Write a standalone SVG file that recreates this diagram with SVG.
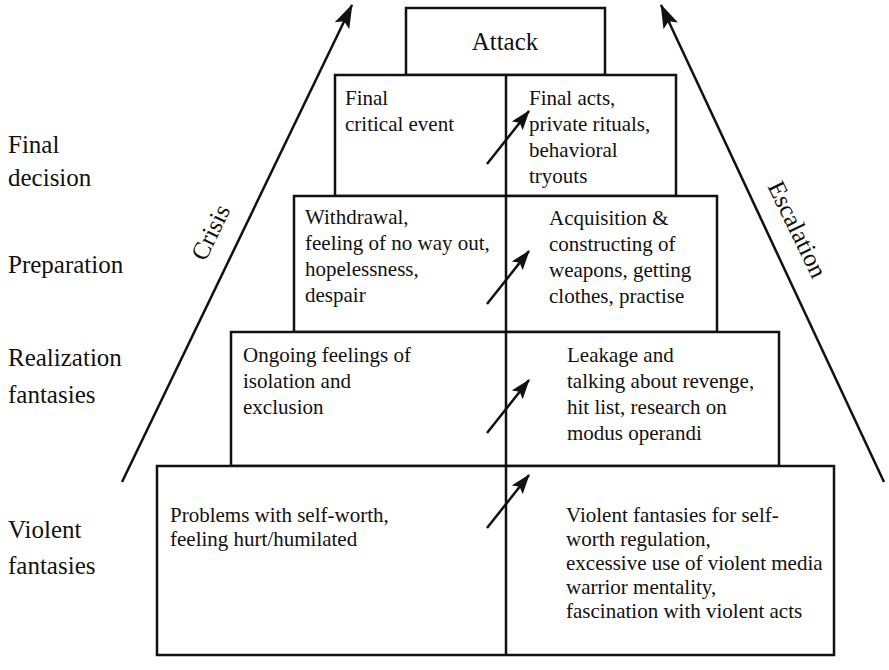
<svg xmlns="http://www.w3.org/2000/svg" width="889" height="670" viewBox="0 0 889 670">
  <defs>
    <marker id="head" viewBox="0 0 20 14" refX="19" refY="7" markerWidth="20" markerHeight="14" markerUnits="userSpaceOnUse" orient="auto">
      <path d="M0,0 L20,7 L0,14 L4,7 z" fill="#111"/>
    </marker>
    <marker id="headBig" viewBox="0 0 24 16" refX="23" refY="8" markerWidth="24" markerHeight="16" markerUnits="userSpaceOnUse" orient="auto">
      <path d="M0,0 L24,8 L0,16 L5,8 z" fill="#111"/>
    </marker>
  </defs>
  <style>
    .box { fill: #fff; stroke: #111; stroke-width: 2.5; }
    .div { stroke: #111; stroke-width: 2.5; fill: none; }
    .t { font-size: 21px; fill: #111; }
    .lbl { font-size: 25px; fill: #111; }
    .conn { stroke: #111; stroke-width: 2.5; fill: none; }
  </style>
  <rect width="889" height="670" fill="#fff"/>

  <g font-family="Liberation Serif, Tinos, Times New Roman, DejaVu Serif, serif">
  <!-- pyramid levels -->
  <g id="attack">
    <rect class="box" x="406" y="8" width="199" height="67"/>
    <text class="lbl" x="505" y="50" text-anchor="middle">Attack</text>
  </g>

  <g id="final-decision">
    <rect class="box" x="335" y="75" width="341" height="121"/>
    <text class="t" x="345" y="105">Final</text>
    <text class="t" x="345" y="131">critical event</text>
    <text class="t" x="529" y="105">Final acts,</text>
    <text class="t" x="529" y="131">private rituals,</text>
    <text class="t" x="529" y="157">behavioral</text>
    <text class="t" x="529" y="183">tryouts</text>
  </g>

  <g id="preparation">
    <rect class="box" x="294" y="196" width="423" height="136"/>
    <text class="t" x="305" y="224">Withdrawal,</text>
    <text class="t" x="305" y="250">feeling of no way out,</text>
    <text class="t" x="305" y="276">hopelessness,</text>
    <text class="t" x="305" y="302">despair</text>
    <text class="t" x="549" y="225">Acquisition &amp;</text>
    <text class="t" x="549" y="251">constructing of</text>
    <text class="t" x="549" y="277">weapons, getting</text>
    <text class="t" x="549" y="303">clothes, practise</text>
  </g>

  <g id="realization">
    <rect class="box" x="231" y="332" width="548" height="134"/>
    <text class="t" x="243" y="362">Ongoing feelings of</text>
    <text class="t" x="243" y="388">isolation and</text>
    <text class="t" x="243" y="414">exclusion</text>
    <text class="t" x="567" y="362">Leakage and</text>
    <text class="t" x="567" y="388">talking about revenge,</text>
    <text class="t" x="567" y="414">hit list, research on</text>
    <text class="t" x="567" y="440">modus operandi</text>
  </g>

  <g id="violent-fantasies">
    <rect class="box" x="157" y="466" width="677" height="189"/>
    <text class="t" x="170" y="522">Problems with self-worth,</text>
    <text class="t" x="170" y="546">feeling hurt/humilated</text>
    <text class="t" x="566" y="522">Violent fantasies for self-</text>
    <text class="t" x="566" y="546">worth regulation,</text>
    <text class="t" x="566" y="570">excessive use of violent media</text>
    <text class="t" x="566" y="594">warrior mentality,</text>
    <text class="t" x="566" y="618">fascination with violent acts</text>
  </g>

  <!-- centre divider through all levels -->
  <line class="div" x1="506" y1="75" x2="506" y2="655"/>

  <!-- stage labels -->
  <g id="stage-labels">
    <text class="lbl" x="8" y="153">Final</text>
    <text class="lbl" x="8" y="186">decision</text>
    <text class="lbl" x="8" y="273">Preparation</text>
    <text class="lbl" x="8" y="366">Realization</text>
    <text class="lbl" x="8" y="403">fantasies</text>
    <text class="lbl" x="8" y="538">Violent</text>
    <text class="lbl" x="8" y="574">fantasies</text>
  </g>

  <!-- connectors -->
  <g id="connectors">
    <line class="conn" x1="122" y1="482" x2="352" y2="5" marker-end="url(#headBig)"/>
    <line class="conn" x1="884" y1="482" x2="661" y2="5" marker-end="url(#headBig)"/>
    <line class="conn" x1="487" y1="164" x2="529" y2="111" marker-end="url(#head)"/>
    <line class="conn" x1="487" y1="304" x2="529" y2="251" marker-end="url(#head)"/>
    <line class="conn" x1="487" y1="433" x2="529" y2="380" marker-end="url(#head)"/>
    <line class="conn" x1="487" y1="528" x2="529" y2="475" marker-end="url(#head)"/>
  </g>

  <!-- axis captions -->
  <g id="axis-labels">
    <text class="lbl" transform="translate(218,236) rotate(-64)" text-anchor="middle">Crisis</text>
    <text class="lbl" transform="translate(790,233) rotate(64)" text-anchor="middle">Escalation</text>
  </g>
  </g>
</svg>
